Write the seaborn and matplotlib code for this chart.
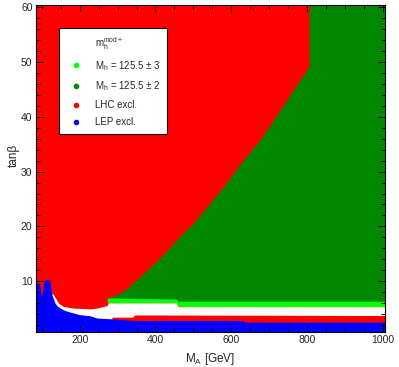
import matplotlib
matplotlib.use("Agg")
import matplotlib.pyplot as plt
from matplotlib.lines import Line2D
from matplotlib.ticker import MultipleLocator
import seaborn as sns

# %% data (M_A in GeV, tan beta)
x_lim = (85, 1005)
y_lim = (0.8, 60.3)

# red (LHC excl.) / dark green border, lower left to upper right
green_edge_x = [274, 315, 360, 421, 470, 500, 544, 580, 632, 676, 729, 764, 790, 805, 805]
green_edge_y = [6.9, 8.2, 10.9, 14.9, 18.6, 20.6, 24.3, 27.3, 32.1, 35.8, 41.2, 44.9, 47.6, 49.1, 61.0]
green_floor = 6.3

# light green band (M_h = 125.5 +- 3)
band_x = [273, 455, 460, 1010]
band_top = [7.0, 6.8, 6.4, 6.4]
band_bottom = [6.1, 6.1, 5.4, 5.4]

# allowed region without colour (white)
white_x = [124, 131, 144, 157, 184, 228, 245, 272, 276, 455, 460, 1010]
white_top = [8.0, 7.6, 6.1, 5.45, 5.15, 5.0, 5.15, 5.6, 6.1, 6.1, 5.4, 5.4]

# low tan beta LHC strip
strip_x = [285, 340, 345, 1010]
strip_top = [3.5, 3.5, 3.9, 3.8]

# LEP excl. upper edge
lep_x = [85, 95, 97, 100, 104, 106, 109, 112, 120, 123, 125, 127, 131, 135, 140, 148,
         157, 166, 184, 201, 228, 245, 285, 340, 630, 635, 1010]
lep_y = [9.7, 9.7, 8.3, 7.3, 8.8, 9.9, 10.3, 10.4, 10.3, 9.5, 8.5, 7.6, 6.8, 6.1, 5.6, 5.2,
         4.85, 4.6, 4.25, 3.95, 3.75, 3.35, 3.2, 2.9, 2.9, 2.6, 2.6]

labels = ["$m_h^{mod+}$", "$M_h$ = 125.5 \u00b1 3", "$M_h$ = 125.5 \u00b1 2", "LHC excl.", "LEP excl."]
colors = ["#00ff00", "#008800", "#ff0000", "#0000ff"]

# %%
sns.set_theme(style="ticks")
plt.rcParams['font.family'] = ['Liberation Sans', 'DejaVu Sans']
plt.rcParams['mathtext.default'] = 'regular'

fig = plt.figure(figsize=(3.99, 3.67), dpi=100)
ax = fig.add_axes([36 / 399, 1 - 332 / 367, 349 / 399, 327 / 367])
ax.set_axisbelow(False)

top = y_lim[1] + 1
ax.fill_between(list(x_lim), 0, top, color=colors[2], lw=0)
ax.fill_between(green_edge_x + [1010], green_floor, green_edge_y + [top], color=colors[1], lw=0)
ax.fill_between(band_x, band_bottom, band_top, color=colors[0], lw=0)
ax.fill_between(white_x, 0, white_top, color="white", lw=0)
ax.fill_between(strip_x, 0, strip_top, color=colors[2], lw=0)
ax.fill_between(lep_x, 0, lep_y, color=colors[3], lw=0)

ax.set_xlim(*x_lim)
ax.set_ylim(*y_lim)
ax.xaxis.set_major_locator(MultipleLocator(200))
ax.xaxis.set_minor_locator(MultipleLocator(50))
ax.yaxis.set_major_locator(MultipleLocator(10))
ax.yaxis.set_minor_locator(MultipleLocator(2))
ax.tick_params(which='both', direction='in', top=True, right=True, color='black',
               labelsize=7.5, pad=2.5, width=0.7)
ax.tick_params(which='major', length=5)
ax.tick_params(which='minor', length=3)
for s in ax.spines.values():
    s.set_color('black')
    s.set_linewidth(0.8)
    s.set_zorder(5)

ax.set_xlabel("$M_A$ [GeV]", fontsize=8.5)
ax.set_ylabel("tan\u03b2", fontsize=8.5)
ax.xaxis.set_label_coords(0.5, -0.058)
ax.yaxis.set_label_coords(-0.046, 0.54)

handles = [Line2D([], [], ls='none', marker=None)]
handles += [Line2D([], [], ls='none', marker='o', markersize=3, color=c) for c in colors]
leg = ax.legend(handles, labels, loc='upper left', bbox_to_anchor=(0.066, 0.929),
                borderaxespad=0, fontsize=7.0, frameon=True, fancybox=False,
                borderpad=0.7, handlelength=2.1, handletextpad=0.85, labelspacing=0.72)
leg.get_frame().set_edgecolor('black')
leg.get_frame().set_linewidth(0.8)
leg.get_frame().set_alpha(1)

fig.savefig("out.png", dpi=100)
